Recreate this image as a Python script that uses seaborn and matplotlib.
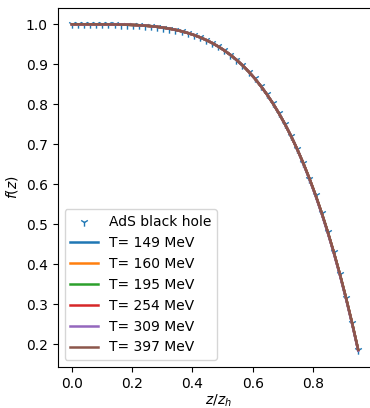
import matplotlib
matplotlib.use("Agg")
import matplotlib.pyplot as plt
import seaborn as sns

# -------------------- data --------------------
z = [0.0, 0.0202, 0.0404, 0.0606, 0.0809, 0.1011, 0.1213, 0.1415, 0.1617, 0.1819,
     0.2021, 0.2223, 0.2426, 0.2628, 0.2830, 0.3032, 0.3234, 0.3436, 0.3638, 0.3840,
     0.4043, 0.4245, 0.4447, 0.4649, 0.4851, 0.5053, 0.5255, 0.5457, 0.5660, 0.5862,
     0.6064, 0.6266, 0.6468, 0.6670, 0.6872, 0.7074, 0.7277, 0.7479, 0.7681, 0.7883,
     0.8085, 0.8287, 0.8489, 0.8691, 0.8894, 0.9096, 0.9298, 0.95]

f_ads = [1.0, 1.0, 1.0, 1.0, 1.0, 0.9999, 0.9998, 0.9996, 0.9993, 0.9989,
         0.9983, 0.9976, 0.9965, 0.9952, 0.9936, 0.9915, 0.9891, 0.9861, 0.9825, 0.9783,
         0.9733, 0.9675, 0.9609, 0.9533, 0.9446, 0.9348, 0.9237, 0.9113, 0.8974, 0.8819,
         0.8648, 0.8458, 0.8250, 0.8021, 0.7770, 0.7496, 0.7196, 0.6871, 0.6519, 0.6138,
         0.5727, 0.5284, 0.4807, 0.4295, 0.3743, 0.3155, 0.2526, 0.1855]

# the QCD curves sit on top of each other; T=309 peeks out slightly near the end
f_qcd = list(f_ads)
f_309 = f_ads[:38] + [0.6510, 0.6125, 0.5712, 0.5266, 0.4788, 0.4275, 0.3722, 0.3133, 0.2505, 0.1838]

temps = ["149", "160", "195", "254", "309", "397"]
curves = [f_qcd, f_qcd, f_qcd, f_qcd, f_309, f_qcd]
# ---------------------------------------------------------------------

fig = plt.figure(figsize=(3.7, 4.08), dpi=100)
# right edge of the axes runs past the picture, as in the reference crop
ax = fig.add_axes([0.1557, 0.1005, 0.8713, 0.88])

sns.scatterplot(x=z, y=f_ads, marker="1", color="C0", s=36, linewidth=1,
                label="AdS black hole", ax=ax)
for i, (t, f) in enumerate(zip(temps, curves)):
    sns.lineplot(x=z, y=f, color=f"C{i}", linewidth=1.8, label=f"T= {t} MeV", ax=ax)

ax.set_xlim(-0.0475, 1.0223)
ax.spines["right"].set_visible(False)
ax.set_xlabel("$z/z_h$", labelpad=1)
ax.set_ylabel("$f(z)$")
ax.set_xticks([0.0, 0.2, 0.4, 0.6, 0.8])
ax.legend(loc="lower left")

fig.savefig("out.png", dpi=100, bbox_inches=None)
